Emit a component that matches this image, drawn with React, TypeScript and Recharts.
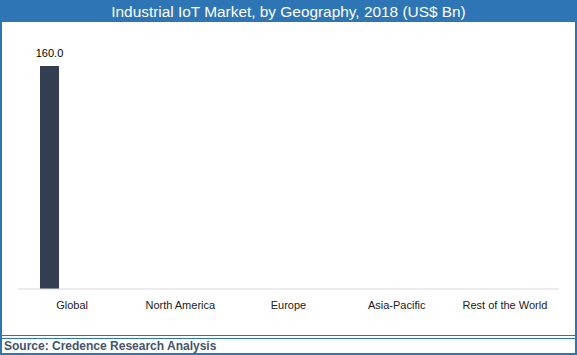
import { Bar, BarChart, LabelList, XAxis, YAxis } from "recharts";

const regions = ["Global", "North America", "Europe", "Asia-Pacific", "Rest of the World"];
const market2018 = [160.0, null, null, null, null];
// empty companion series keep the Global bar at the left of its slot, as in the source sheet
const spareA = [null, null, null, null, null];
const spareB = [null, null, null, null, null];

const data = regions.map((region, i) => ({
  region,
  value: market2018[i],
  a: spareA[i],
  b: spareB[i],
}));

const blue = "#2E75B6";

export default function App() {
  return (
    <div
      style={{
        position: "absolute",
        left: 0,
        top: 0,
        width: 577,
        height: 355,
        boxSizing: "border-box",
        border: `2px solid ${blue}`,
        borderTop: "none",
        background: "#fff",
        fontFamily: "'Liberation Sans', Arial, sans-serif",
      }}
    >
      <div
        style={{
          position: "absolute",
          left: -2,
          top: 0,
          width: 577,
          height: 22,
          background: blue,
          color: "#fff",
          fontSize: 15.4,
          lineHeight: "23px",
          textAlign: "center",
        }}
      >
        Industrial IoT Market, by Geography, 2018 (US$ Bn)
      </div>
      <div style={{ position: "absolute", left: -2, top: 0 }}>
        <BarChart
          width={577}
          height={336}
          data={data}
          margin={{ top: 38, right: 18, bottom: 17, left: 18 }}
          barSize={19}
          barGap={4}
        >
          <XAxis
            dataKey="region"
            axisLine={{ stroke: "#D9D9D9" }}
            tickLine={false}
            tickMargin={6}
            height={30}
            interval={0}
            tick={{ fontSize: 11, fill: "#222", fontFamily: "'Liberation Sans', Arial, sans-serif" }}
          />
          <YAxis hide domain={[0, 180]} />
          <Bar dataKey="value" fill="#333F50" isAnimationActive={false}>
            <LabelList
              dataKey="value"
              position="top"
              offset={9}
              formatter={(v: any) => (v == null ? "" : Number(v).toFixed(1))}
              style={{ fontSize: 11, fill: "#000", fontFamily: "'Liberation Sans', Arial, sans-serif" }}
            />
          </Bar>
          <Bar dataKey="a" fill="#8497B0" isAnimationActive={false} />
          <Bar dataKey="b" fill="#ADB9CA" isAnimationActive={false} />
        </BarChart>
      </div>
      <div
        style={{
          position: "absolute",
          left: -2,
          top: 335,
          width: 577,
          height: 4,
          boxSizing: "border-box",
          borderTop: `1px solid ${blue}`,
          borderBottom: `1px solid ${blue}`,
        }}
      />
      <div
        style={{
          position: "absolute",
          left: 2,
          top: 339,
          fontSize: 12,
          fontWeight: "bold",
          color: "#44546A",
          lineHeight: "14px",
        }}
      >
        Source: Credence Research Analysis
      </div>
    </div>
  );
}
